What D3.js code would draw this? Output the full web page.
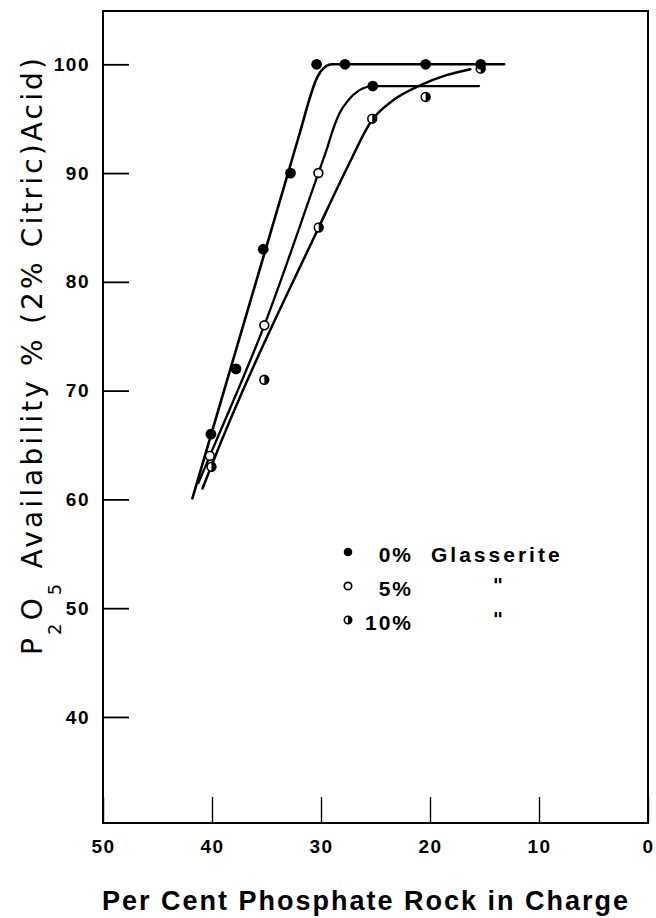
<!DOCTYPE html>
<html><head><meta charset="utf-8">
<script src="https://cdn.jsdelivr.net/npm/d3@7"></script>
<style>body{margin:0;background:#fff}</style>
</head><body>
<script>
// ---- data ----
const xTicks = [50, 40, 30, 20, 10, 0];
const yTicks = [40, 50, 60, 70, 80, 90, 100];

// observed points (x = % phosphate rock, y = P2O5 availability)
const pct0X = [40.1, 37.8, 35.3, 32.8, 30.4, 27.8, 25.25, 20.4, 15.35];
const pct0Y = [66, 72, 83, 90, 100, 100, 98, 100, 100];
const pct5X = [40.2, 35.2, 30.24];
const pct5Y = [64, 76, 90];
const pct10X = [40.05, 35.2, 30.21, 25.3, 20.4, 15.35];
const pct10Y = [63, 71, 85, 95, 97, 99.6];

// hand-drawn curves
const curve0 = [[41.8,60.1],[36.4,78.5],[32.0,93.5],[30.9,97.3],[30.48,98.5],[30.03,99.33],[29.53,99.83],[29.0,100],[13.2,100]];
const curve5 = [[41.25,61.5],[40.2,64],[35.2,76],[30.24,90],[29.5,92.1],[28.9,94.0],[28.3,95.5],[27.5,96.7],[26.5,97.6],[25.25,98],[15.5,98]];
const curve10 = [[40.87,61.0],[40.05,63.1],[30.21,85],[27.5,90.7],[25.3,94.9],[23.5,96.6],[20.8,98.1],[18.5,99.0],[16.3,99.55]];

const legendPct = ["0%", "5%", "10%"];
const legendName = "Glasserite";
const legendDitto = ["", "\"", "\""];
const xTitle = "Per Cent Phosphate Rock in Charge";

// ---- chart ----
const W = 656, H = 918;
const x = d3.scaleLinear().domain([50, 0]).range([103, 648]);
const y = d3.scaleLinear().domain([30.25, 104.9]).range([823, 11]);
const svg = d3.select("body").append("svg").attr("width", W).attr("height", H);

const boldFont = "'Liberation Sans', Arial, sans-serif";

// frame
const [y0, y1] = y.domain();
svg.append("rect")
  .attr("x", x(50)).attr("y", y(y1))
  .attr("width", x(0) - x(50)).attr("height", y(y0) - y(y1))
  .attr("fill", "none").attr("stroke", "#000").attr("stroke-width", 2);

// y axis
const gy = svg.append("g").attr("transform", `translate(${x(50)},0)`)
  .call(d3.axisLeft(y).tickValues(yTicks).tickSizeInner(-26).tickSizeOuter(0).tickPadding(13));
gy.select(".domain").remove();
gy.selectAll("line").attr("stroke", "#000").attr("stroke-width", 1.8);
gy.selectAll("text").attr("font-family", boldFont).attr("font-weight", "bold")
  .attr("font-size", 19).attr("letter-spacing", 1.5).attr("fill", "#000");

// x axis
const gx = svg.append("g").attr("transform", `translate(0,${y(y0)})`)
  .call(d3.axisBottom(x).tickValues(xTicks).tickSizeInner(-26).tickSizeOuter(0).tickPadding(17).tickFormat(d3.format("d")));
gx.select(".domain").remove();
gx.selectAll("line").attr("stroke", "#000").attr("stroke-width", 1.4);
gx.selectAll("text").attr("font-family", boldFont).attr("font-weight", "bold")
  .attr("font-size", 19).attr("letter-spacing", 1.5).attr("fill", "#000");

// x title
svg.append("text").attr("x", 102).attr("y", 910)
  .attr("font-family", boldFont).attr("font-weight", "bold").attr("font-size", 27)
  .attr("textLength", 526).attr("lengthAdjust", "spacing")
  .text(xTitle);

// y title
const yt = svg.append("text").attr("transform", "translate(42,655) rotate(-90)")
  .attr("font-family", "'DejaVu Sans', sans-serif").attr("font-size", 28)
  .attr("textLength", 597).attr("lengthAdjust", "spacing");
yt.append("tspan").text("P");
yt.append("tspan").attr("dy", 19).attr("font-size", 18).text("2");
yt.append("tspan").attr("dy", -19).text("O");
yt.append("tspan").attr("dy", 19).attr("font-size", 18).text("5");
yt.append("tspan").attr("dy", -19).text(" Availability % (2% Citric)Acid)");

// curves
const line = d3.line().x(d => x(d[0])).y(d => y(d[1])).curve(d3.curveMonotoneX);
[[curve0, 2.6], [curve5, 2.3], [curve10, 2.5]].forEach(([c, w]) => {
  svg.append("path").attr("d", line(c)).attr("fill", "none")
    .attr("stroke", "#000").attr("stroke-width", w).attr("stroke-linecap", "round");
});

// markers
function marker(g, type, cx, cy, r) {
  if (type === "filled") {
    g.append("circle").attr("cx", cx).attr("cy", cy).attr("r", r).attr("fill", "#000");
  } else if (type === "open") {
    g.append("circle").attr("cx", cx).attr("cy", cy).attr("r", r - 0.6)
      .attr("fill", "#fff").attr("stroke", "#000").attr("stroke-width", 1.7);
  } else {
    g.append("circle").attr("cx", cx).attr("cy", cy).attr("r", r - 0.6)
      .attr("fill", "#fff").attr("stroke", "#000").attr("stroke-width", 1.6);
    g.append("path")
      .attr("d", `M${cx},${cy - r + 0.6} A${r - 0.6},${r - 0.6} 0 0 1 ${cx},${cy + r - 0.6} Z`)
      .attr("fill", "#000");
  }
}
const gm = svg.append("g");
pct10X.forEach((v, i) => marker(gm, "half", x(v), y(pct10Y[i]), 5));
pct5X.forEach((v, i) => marker(gm, "open", x(v), y(pct5Y[i]), 5));
pct0X.forEach((v, i) => marker(gm, "filled", x(v), y(pct0Y[i]), 5.4));

// legend
const types = ["filled", "open", "half"];
const gl = svg.append("g");
legendPct.forEach((t, i) => {
  const yb = 562 + i * 34;
  marker(gl, types[i], 348, yb - 10, 4.3);
  gl.append("text").attr("x", 413).attr("y", yb).attr("text-anchor", "end")
    .attr("font-family", boldFont).attr("font-weight", "bold").attr("font-size", 21)
    .attr("letter-spacing", 2).text(t);
  if (i === 0) {
    gl.append("text").attr("x", 431).attr("y", yb)
      .attr("font-family", boldFont).attr("font-weight", "bold").attr("font-size", 21)
      .attr("letter-spacing", 3).text(legendName);
  }
  if (legendDitto[i]) {
    gl.append("text").attr("x", 498).attr("y", yb - 4).attr("text-anchor", "middle")
      .attr("font-family", "'DejaVu Sans', sans-serif").attr("font-weight", "bold").attr("font-size", 20)
      .text(legendDitto[i]);
  }
});
</script>
</body></html>
